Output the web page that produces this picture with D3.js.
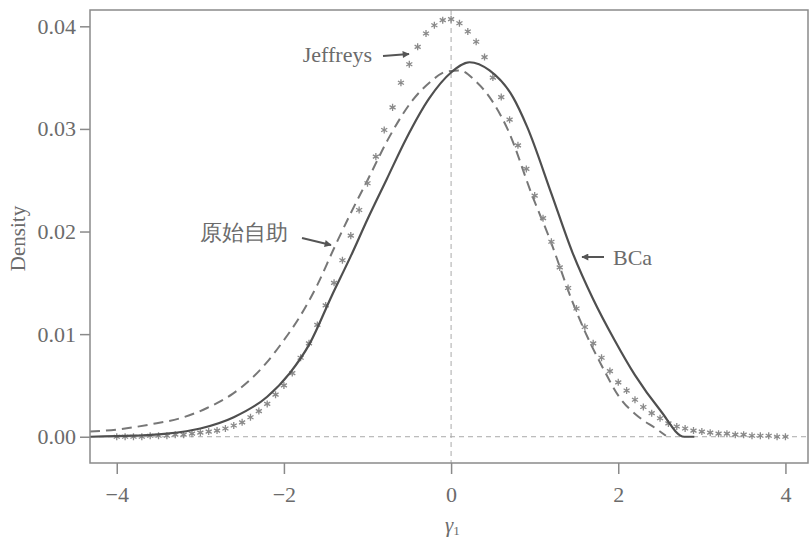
<!DOCTYPE html>
<html>
<head>
<meta charset="utf-8">
<script src="https://cdn.jsdelivr.net/npm/d3@7"></script>
<style>
  body { margin: 0; background: #fff; }
  svg { display: block; }
  text { font-family: "Liberation Serif", "DejaVu Serif", serif; fill: #6b6b6b; }
</style>
</head>
<body>
<svg id="chart" width="809" height="539"></svg>
<script>
// BCa density (solid)
var bcaX = [-4.32, -3.8, -3.4, -3.0, -2.6, -2.2, -1.93, -1.69, -1.43, -1.2, -1.0, -0.77, -0.54, -0.26, 0.0, 0.22, 0.46, 0.74, 0.91, 1.2, 1.45, 1.7, 1.95, 2.2, 2.5, 2.79, 2.91];
var bcaY = [0.0000, 0.0001, 0.0003, 0.0008, 0.0019, 0.0039, 0.0062, 0.0091, 0.0137, 0.0176, 0.0212, 0.0251, 0.0290, 0.0330, 0.0355, 0.0365, 0.0357, 0.0331, 0.0302, 0.0237, 0.0180, 0.0134, 0.0095, 0.0060, 0.0026, 0.0000, 0.0000];

// raw bootstrap density (dashed)
var rawX = [-4.32, -4.0, -3.6, -3.2, -2.92, -2.61, -2.41, -2.21, -2.01, -1.81, -1.6, -1.41, -1.2, -1.0, -0.74, -0.46, -0.26, -0.05, 0.1, 0.3, 0.46, 0.68, 0.98, 1.17, 1.45, 1.61, 1.81, 2.01, 2.25, 2.45, 2.57];
var rawY = [0.0005, 0.0007, 0.0012, 0.0019, 0.0028, 0.0042, 0.0055, 0.0072, 0.0093, 0.0117, 0.0148, 0.0182, 0.0218, 0.0250, 0.0292, 0.0328, 0.0345, 0.0356, 0.0357, 0.0346, 0.0331, 0.0299, 0.0233, 0.0195, 0.0132, 0.0101, 0.0068, 0.0039, 0.0019, 0.0008, 0.0001];

// Jeffreys density (asterisks), x = -4, -3.9, ..., 4
var jefX = d3.range(-40, 41).map(function(i) { return i / 10; });
var jefY = [0.0000, 0.0000, 0.0000, 0.0000, 0.0001, 0.0001, 0.0001, 0.0002, 0.0002, 0.0003,
            0.0004, 0.0005, 0.0006, 0.0008, 0.0011, 0.0014, 0.0019, 0.0025, 0.0032, 0.0041,
            0.0050, 0.0062, 0.0077, 0.0091, 0.0109, 0.0128, 0.0150, 0.0172, 0.0196, 0.0221,
            0.0247, 0.0273, 0.0299, 0.0321, 0.0345, 0.0363, 0.0380, 0.0393, 0.0401, 0.0406,
            0.0407,
            0.0403, 0.0395, 0.0385, 0.0370, 0.0350, 0.0331, 0.0309, 0.0284, 0.0261, 0.0235,
            0.0213, 0.0190, 0.0165, 0.0145, 0.0125, 0.0107, 0.0091, 0.0077, 0.0064, 0.0053,
            0.0045, 0.0036, 0.0029, 0.0023, 0.0018, 0.0013, 0.0010, 0.0008, 0.0006, 0.0005,
            0.0004, 0.0003, 0.0003, 0.0002, 0.0002, 0.0001, 0.0001, 0.0001, 0.0000, 0.0000];

var xTicks = [-4, -2, 0, 2, 4];
var yTicks = [0, 0.01, 0.02, 0.03, 0.04];

var pLeft = 90, pRight = 808, pTop = 10, pBottom = 463;
var svg = d3.select("#chart");

var x = d3.scaleLinear().domain([-4.32, 4.27]).range([pLeft, pRight]);
var y = d3.scaleLinear().domain([-0.00256, 0.04159]).range([pBottom, pTop]);

function zip(xs, ys) { return xs.map(function(v, i) { return [v, ys[i]]; }); }

// reference lines at 0
svg.append("line")
  .attr("x1", x(0)).attr("x2", x(0)).attr("y1", pTop).attr("y2", pBottom)
  .attr("stroke", "#aaa").attr("stroke-width", 1).attr("stroke-dasharray", "5,4");
svg.append("line")
  .attr("x1", pLeft).attr("x2", pRight).attr("y1", y(0)).attr("y2", y(0))
  .attr("stroke", "#aaa").attr("stroke-width", 1).attr("stroke-dasharray", "5,4");

var line = d3.line()
  .x(function(d) { return x(d[0]); })
  .y(function(d) { return y(d[1]); })
  .curve(d3.curveMonotoneX);

// dashed raw bootstrap
svg.append("path")
  .attr("d", line(zip(rawX, rawY)))
  .attr("fill", "none").attr("stroke", "#777").attr("stroke-width", 2)
  .attr("stroke-dasharray", "10,6");

// jeffreys asterisks
var star = d3.symbol().type(d3.symbolAsterisk).size(34);
svg.selectAll("path.jef")
  .data(zip(jefX, jefY))
  .enter()
  .append("path")
  .attr("class", "jef")
  .attr("d", star)
  .attr("transform", function(d) { return "translate(" + x(d[0]) + "," + y(d[1]) + ")"; })
  .attr("fill", "none").attr("stroke", "#8a8a8a").attr("stroke-width", 1.3);

// solid BCa
svg.append("path")
  .attr("d", line(zip(bcaX, bcaY)))
  .attr("fill", "none").attr("stroke", "#4f4f4f").attr("stroke-width", 2.2);

// frame
svg.append("rect")
  .attr("x", pLeft).attr("y", pTop).attr("width", pRight - pLeft).attr("height", pBottom - pTop)
  .attr("fill", "none").attr("stroke", "#8a8a8a").attr("stroke-width", 1.5);

// axes
var yAxis = svg.append("g")
  .attr("transform", "translate(" + pLeft + ",0)")
  .call(d3.axisLeft(y).tickValues(yTicks).tickFormat(d3.format(".2f")).tickSize(10).tickPadding(4));
var xAxis = svg.append("g")
  .attr("transform", "translate(0," + pBottom + ")")
  .call(d3.axisBottom(x).tickValues(xTicks).tickSize(11));

[yAxis, xAxis].forEach(function(g) {
  g.select(".domain").remove();
  g.selectAll(".tick line").attr("stroke", "#8a8a8a").attr("stroke-width", 1.5);
  g.selectAll(".tick text")
    .attr("font-family", "Liberation Serif, serif")
    .attr("font-size", 22)
    .attr("fill", "#6b6b6b");
});
xAxis.selectAll(".tick text").attr("y", 39).attr("dy", 0);

// axis titles
svg.append("text")
  .attr("transform", "translate(25," + ((pTop + pBottom) / 2 + 2) + ") rotate(-90)")
  .attr("text-anchor", "middle")
  .attr("font-size", 21)
  .text("Density");

var xl = svg.append("text")
  .attr("x", 445).attr("y", 532)
  .attr("font-size", 21);
xl.append("tspan").attr("font-style", "italic").text("γ");
xl.append("tspan").attr("font-size", 13).attr("dy", 3).text("1");

// annotations
svg.append("defs").append("marker")
  .attr("id", "head")
  .attr("viewBox", "0 0 10 10")
  .attr("refX", 9).attr("refY", 5)
  .attr("markerWidth", 9).attr("markerHeight", 7)
  .attr("markerUnits", "userSpaceOnUse")
  .attr("orient", "auto")
  .append("path").attr("d", "M0,0L10,5L0,10z").attr("fill", "#555");

var notes = [
  { label: "Jeffreys", tx: 372, ty: 62, anchor: "end", font: "Liberation Serif, serif", size: 22, ax1: 383, ay1: 56, ax2: 409, ay2: 54 },
  { label: "原始自助", tx: 200, ty: 240, anchor: "start", font: "Noto Sans CJK SC, sans-serif", size: 22, ax1: 302, ay1: 238, ax2: 331, ay2: 245 },
  { label: "BCa", tx: 613, ty: 265, anchor: "start", font: "Liberation Serif, serif", size: 22, ax1: 604, ay1: 257, ax2: 582, ay2: 257 }
];

notes.forEach(function(n) {
  svg.append("text")
    .attr("x", n.tx).attr("y", n.ty)
    .attr("text-anchor", n.anchor)
    .attr("font-family", n.font)
    .attr("font-size", n.size)
    .attr("fill", "#6b6b6b")
    .text(n.label);
  svg.append("line")
    .attr("x1", n.ax1).attr("y1", n.ay1).attr("x2", n.ax2).attr("y2", n.ay2)
    .attr("stroke", "#555").attr("stroke-width", 2)
    .attr("marker-end", "url(#head)");
});
</script>
</body>
</html>
